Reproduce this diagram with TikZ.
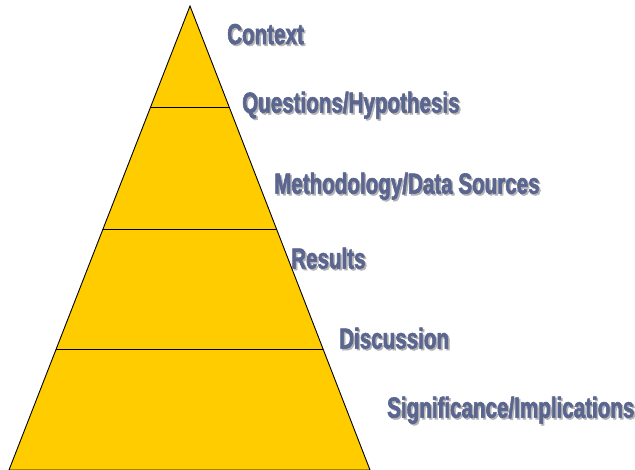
\documentclass[tikz,border=0pt]{standalone}
\usepackage{fontspec}
\usepackage{xcolor}
\usepackage{tikz}
\usetikzlibrary{positioning,calc}

\newfontfamily\tierfont[FakeStretch=0.71,FakeBold=2]{Liberation Sans Bold}
\definecolor{pyryellow}{HTML}{FFCC00}
\definecolor{tierblue}{HTML}{5A6590}
\definecolor{tiershade}{HTML}{B4B4B4}
\newcommand{\shadetext}[1]{\makebox[0pt][l]{\color{tiershade}\hspace{1.6pt}\raisebox{-1.6pt}{#1}}#1}

\tikzset{
  tierlabel/.style={anchor=west, inner sep=0pt, text=tierblue, font=\tierfont\fontsize{29}{29}\selectfont}
}

\begin{document}
\begin{tikzpicture}[x=1pt, y=-1pt]
    \useasboundingbox (0,0) rectangle (635,470);
    \coordinate (apex) at (190,6);
    \coordinate (bl) at (9,470);
    \coordinate (br) at (370,470);

    \filldraw[fill=pyryellow, draw=black, line width=0.9pt] (apex) -- (bl) -- (br) -- cycle;

    % tier separators
    \foreach \y/\n in {108/a, 230/b, 350/c} {
        \draw[line width=1pt] ($(apex)!{(\y-6)/464}!(bl)$) -- ($(apex)!{(\y-6)/464}!(br)$);
    }

    \node[tierlabel] (context) at (227,35) {\shadetext{Context}};
    \node[tierlabel] (questions) at (242,106) {\shadetext{Questions/Hypothesis}};
    \node[tierlabel] (method) at (274,187) {\shadetext{Methodology/Data Sources}};
    \node[tierlabel] (results) at (291,259) {\shadetext{Results}};
    \node[tierlabel] (discussion) at (339,339) {\shadetext{Discussion}};
    \node[tierlabel] (significance) at (387,411) {\shadetext{Significance/Implications}};
\end{tikzpicture}
\end{document}
